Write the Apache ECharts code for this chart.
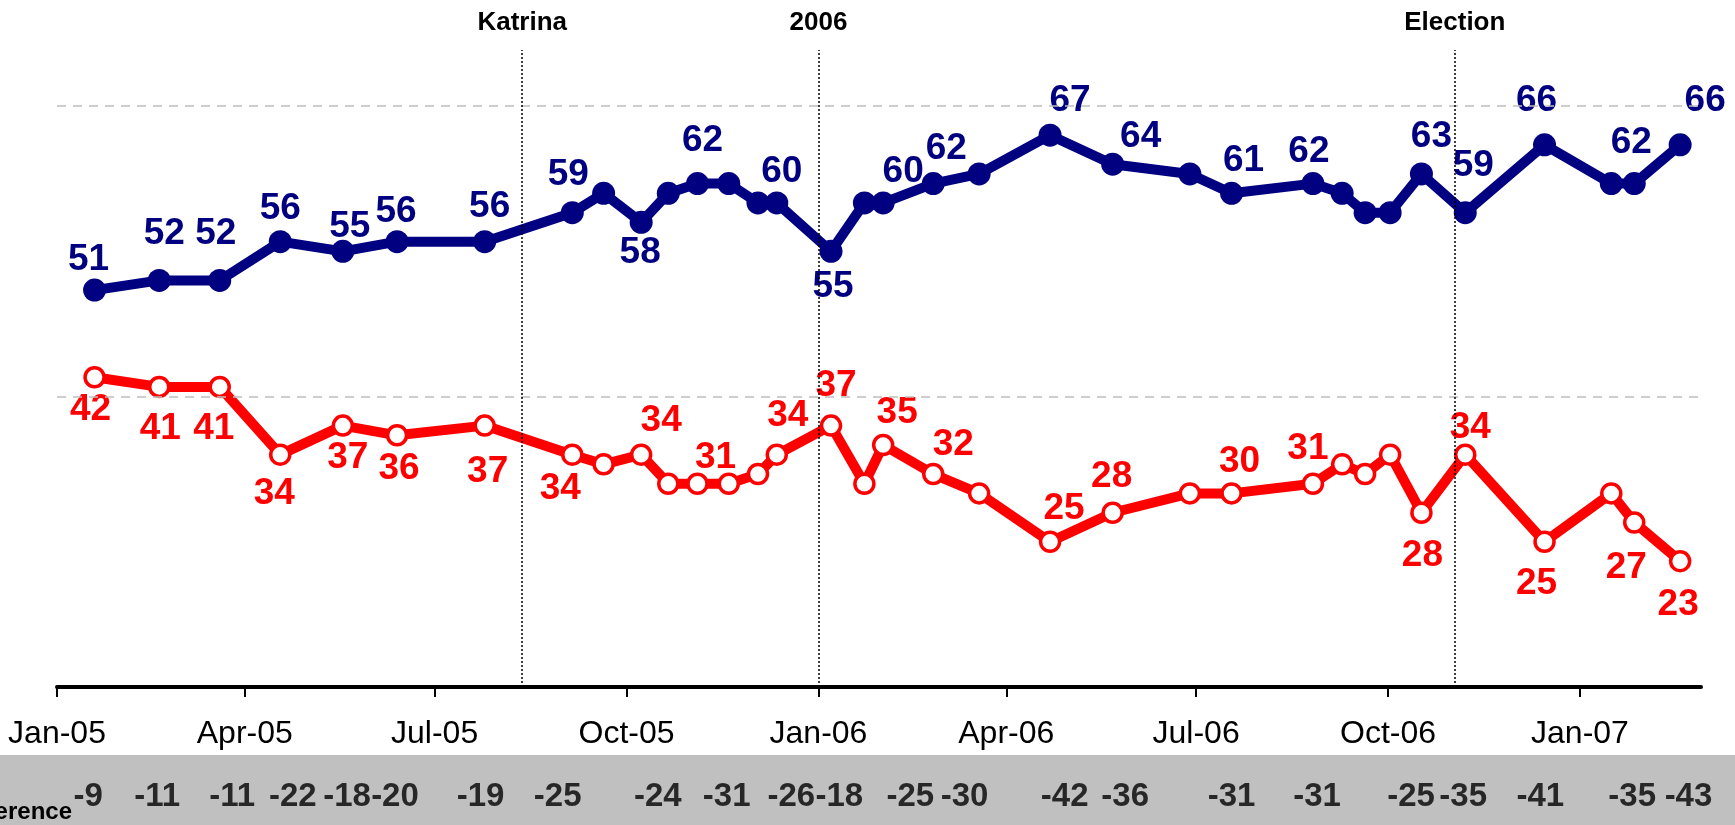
<!DOCTYPE html>
<html>
<head>
<meta charset="utf-8">
<script src="https://cdn.jsdelivr.net/npm/echarts@6/dist/echarts.min.js"></script>
<style>
  html, body { margin: 0; padding: 0; background: #fff; }
  #chart { width: 1735px; height: 825px; }
</style>
</head>
<body>
<div id="chart"></div>
<script>
// poll dates
const pollDates = [
  '2005-01-19', '2005-02-19', '2005-03-20', '2005-04-18', '2005-05-18', '2005-06-13',
  '2005-07-25', '2005-09-05', '2005-09-20', '2005-10-08', '2005-10-21', '2005-11-04',
  '2005-11-19', '2005-12-03', '2005-12-12', '2006-01-07', '2006-01-23', '2006-02-01',
  '2006-02-25', '2006-03-19', '2006-04-22', '2006-05-22', '2006-06-28', '2006-07-18',
  '2006-08-26', '2006-09-09', '2006-09-20', '2006-10-02', '2006-10-17', '2006-11-07',
  '2006-12-15', '2007-01-16', '2007-01-27', '2007-02-18',
];
const blueVals = [
  51, 52, 52, 56, 55, 56, 56, 59, 61, 58, 61, 62, 62, 60, 60, 55, 60,
  60, 62, 63, 67, 64, 63, 61, 62, 61, 59, 59, 63, 59, 66, 62, 62, 66,
];
const redVals = [
  42, 41, 41, 34, 37, 36, 37, 34, 33, 34, 31, 31, 31, 32, 34, 37, 31,
  35, 32, 30, 25, 28, 30, 30, 31, 33, 32, 34, 28, 34, 25, 30, 27, 23,
];

// difference row
const diffDates = [
  '2005-01-16', '2005-02-18', '2005-03-26', '2005-04-24', '2005-05-20', '2005-06-12',
  '2005-07-23', '2005-08-29', '2005-10-16', '2005-11-18', '2005-12-19', '2006-01-11',
  '2006-02-14', '2006-03-12', '2006-04-29', '2006-05-28', '2006-07-18', '2006-08-28',
  '2006-10-12', '2006-11-06', '2006-12-13', '2007-01-26', '2007-02-22',
];
const diffLabels = [
  '-9', '-11', '-11', '-22', '-18', '-20', '-19', '-25', '-24', '-31', '-26', '-18',
  '-25', '-30', '-42', '-36', '-31', '-31', '-25', '-35', '-41', '-35', '-43',
];

// events
const eventNames = ['Katrina', '2006', 'Election'];
const eventDates = ['2005-08-12', '2006-01-01', '2006-11-02'];

// x ticks
const tickDates = [
  '2005-01-01', '2005-04-01', '2005-07-01', '2005-10-01', '2006-01-01',
  '2006-04-01', '2006-07-01', '2006-10-01', '2007-01-01',
];
const gridValues = [40, 70];

/**
 * label offsets (px) for the points that carry a value label
 */
const blueLabelOffsets = {
  0: [-6, -30], 1: [5, -47], 2: [-4, -47], 3: [0, -33], 4: [7, -25], 5: [-1, -30],
  6: [5, -35], 7: [-4, -38], 9: [-1, 30], 11: [5, -43], 14: [5, -31], 15: [2, 35],
  17: [20, -31], 18: [13, -35], 20: [20, -34], 21: [28, -27], 23: [12, -32],
  24: [-4, -32], 28: [10, -37], 29: [8, -47], 30: [-8, -44], 32: [-3, -41], 33: [25, -44],
};
const redLabelOffsets = {
  0: [-4, 33], 1: [1, 42], 2: [-6, 42], 3: [-6, 39], 4: [5, 32], 5: [2, 33],
  6: [3, 46], 7: [-12, 34], 9: [20, -34], 11: [18, -26], 14: [11, -39], 15: [5, -40],
  17: [14, -32], 18: [20, -29], 20: [14, -33], 21: [-1, -36], 23: [8, -32],
  24: [-5, -35], 28: [1, 43], 29: [5, -27], 30: [-8, 42], 32: [-8, 45], 33: [-2, 44],
};

const FONT = '"Liberation Sans", Arial, sans-serif';
const MONTHS = ['Jan', 'Feb', 'Mar', 'Apr', 'May', 'Jun', 'Jul', 'Aug', 'Sep', 'Oct', 'Nov', 'Dec'];

const ts = (s) => {
  const [y, m, d] = s.split('-').map(Number);
  return new Date(y, m - 1, d).getTime();
};

const xMin = ts('2005-01-01');
const xMax = ts('2007-02-28');

const toData = (vals, offsets) => pollDates.map((d, i) => {
  const item = { value: [ts(d), vals[i]] };
  if (offsets[i]) {
    item.label = { show: true, offset: offsets[i] };
  }
  return item;
});

const lineSeries = (name, vals, offsets, color, hollow) => ({
  name,
  type: 'line',
  xAxisIndex: 0,
  yAxisIndex: 0,
  z: 3,
  data: toData(vals, offsets),
  symbol: 'circle',
  symbolSize: hollow ? 19 : 23,
  lineStyle: { color, width: 10 },
  itemStyle: hollow
    ? { color: '#fff', borderColor: color, borderWidth: 3.5 }
    : { color, borderWidth: 0 },
  label: {
    show: false,
    position: 'inside',
    color,
    fontFamily: FONT,
    fontWeight: 'bold',
    fontSize: 37,
    formatter: p => p.value[1],
  },
});

const option = {
  animation: false,
  backgroundColor: '#fff',
  graphic: [
    {
      type: 'rect',
      z: 0,
      shape: { x: 0, y: 755, width: 1735, height: 70 },
      style: { fill: '#c0c0c0' },
    },
    {
      type: 'text',
      z: 1,
      x: 72,
      y: 824,
      style: {
        text: 'Difference',
        align: 'right',
        verticalAlign: 'bottom',
        fill: '#000',
        font: `bold 24px ${FONT}`,
      },
    },
  ],
  grid: [
    { left: 57, right: 34, top: 50, bottom: 138, outerBoundsMode: 'none' },
    { left: 57, right: 34, top: 755, height: 70, outerBoundsMode: 'none' },
  ],
  xAxis: [
    {
      type: 'value',
      gridIndex: 0,
      min: xMin,
      max: xMax,
      splitLine: { show: false },
      axisLine: { lineStyle: { color: '#000', width: 4 } },
      axisTick: {
        show: true,
        length: 10,
        lineStyle: { color: '#000', width: 2 },
        customValues: tickDates.map(ts),
      },
      axisLabel: {
        customValues: tickDates.map(ts),
        margin: 31,
        color: '#000',
        fontFamily: FONT,
        fontSize: 32,
        formatter: (v) => {
          const d = new Date(v);
          return `${MONTHS[d.getMonth()]}-${String(d.getFullYear()).slice(2)}`;
        },
      },
    },
    {
      type: 'value',
      gridIndex: 1,
      min: xMin,
      max: xMax,
      show: false,
    },
  ],
  yAxis: [
    { type: 'value', gridIndex: 0, min: 10, max: 75.8, show: false, splitLine: { show: false } },
    { type: 'value', gridIndex: 1, min: 0, max: 1, show: false, splitLine: { show: false } },
  ],
  series: [
    {
      name: 'guides',
      type: 'line',
      xAxisIndex: 0,
      yAxisIndex: 0,
      z: 1,
      data: [],
      markLine: {
        silent: true,
        symbol: ['none', 'none'],
        animation: false,
        data: [
          ...gridValues.map(v => ({
            yAxis: v,
            lineStyle: { color: '#bfbfbf', type: [9, 7], width: 1.5 },
            label: { show: false },
          })),
          ...eventNames.map((name, i) => ({
            name,
            xAxis: ts(eventDates[i]),
            lineStyle: { color: '#000', type: [2, 2], width: 1.5 },
            label: {
              show: true,
              position: 'end',
              distance: 14,
              formatter: '{b}',
              color: '#000',
              fontFamily: FONT,
              fontWeight: 'bold',
              fontSize: 26,
            },
          })),
        ],
      },
    },
    lineSeries('blue', blueVals, blueLabelOffsets, '#000080', false),
    lineSeries('red', redVals, redLabelOffsets, '#ff0000', true),
    {
      name: 'difference',
      type: 'scatter',
      xAxisIndex: 1,
      yAxisIndex: 1,
      z: 3,
      symbolSize: 1,
      itemStyle: { color: 'rgba(0,0,0,0)' },
      data: diffDates.map((d, i) => ({ value: [ts(d), 0.5, diffLabels[i]] })),
      label: {
        show: true,
        position: 'inside',
        offset: [0, 7],
        color: '#000',
        fontFamily: FONT,
        fontWeight: 'bold',
        fontSize: 33,
        formatter: p => p.value[2],
      },
    },
  ],
};

const chart = echarts.init(document.getElementById('chart'));
chart.setOption(option);
</script>
</body>
</html>
